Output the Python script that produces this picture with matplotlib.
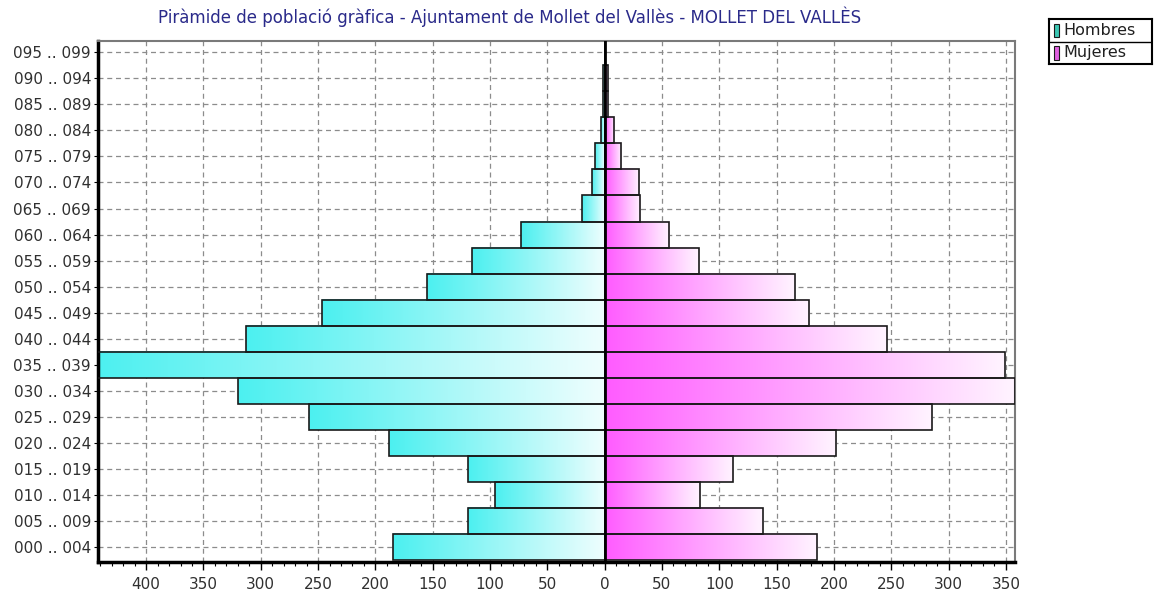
import numpy as np
import matplotlib
matplotlib.use('Agg')
from matplotlib import pyplot as plt
from matplotlib.colors import LinearSegmentedColormap
from matplotlib.patches import Rectangle

plt.rcParams['font.family'] = ['DejaVu Sans']

# age groups, bottom to top
grupos = ['000 .. 004', '005 .. 009', '010 .. 014', '015 .. 019', '020 .. 024',
          '025 .. 029', '030 .. 034', '035 .. 039', '040 .. 044', '045 .. 049',
          '050 .. 054', '055 .. 059', '060 .. 064', '065 .. 069', '070 .. 074',
          '075 .. 079', '080 .. 084', '085 .. 089', '090 .. 094', '095 .. 099']
hombres = [185, 119, 96, 119, 188, 258, 320, 445, 313, 247,
           155, 116, 73, 20, 11, 8, 3, 1.5, 1.5, 0]
mujeres = [185, 138, 83, 112, 202, 286, 358, 349, 246, 178,
           166, 82, 56, 31, 30, 14, 8, 2.5, 2.5, 0]
xticks = [-400, -350, -300, -250, -200, -150, -100, -50, 0, 50, 100, 150, 200, 250, 300, 350]

titulo = 'Piràmide de població gràfica - Ajuntament de Mollet del Vallès - MOLLET DEL VALLÈS'

cmap_h = LinearSegmentedColormap.from_list('h', ['#4cf0f0', '#effefe'])
cmap_m = LinearSegmentedColormap.from_list('m', ['#ff5cff', '#fff4ff'])
grad = np.linspace(0, 1, 256).reshape(1, -1)

fig = plt.figure(figsize=(11.57, 5.95), dpi=100)
ax = fig.add_axes([98/1157, 1-562/595, (1015-98)/1157, (562-41)/595])

y = np.arange(len(grupos))

# grid under the bars
ax.set_axisbelow(True)
ax.grid(True, color='#8c8c8c', linestyle=(0, (4, 3)), linewidth=0.9)

# gradient fill, left to right inside every bar
for i in range(len(grupos)):
    if hombres[i] > 0:
        ax.imshow(grad, cmap=cmap_h, aspect='auto', interpolation='bicubic',
                  extent=[-hombres[i], 0, y[i]-0.5, y[i]+0.5], zorder=2)
    if mujeres[i] > 0:
        ax.imshow(grad, cmap=cmap_m, aspect='auto', interpolation='bicubic',
                  extent=[0, mujeres[i], y[i]-0.5, y[i]+0.5], zorder=2)

ax.barh(y, [-v for v in hombres], height=1.0, facecolor='none',
        edgecolor='#1a1a1a', linewidth=1.2, zorder=3)
ax.barh(y, mujeres, height=1.0, facecolor='none',
        edgecolor='#1a1a1a', linewidth=1.2, zorder=3)
ax.axvline(0, color='black', linewidth=2, zorder=4)

ax.set_xlim(-442, 358)
ax.set_ylim(-0.57, 19.43)

ax.set_xticks(xticks)
ax.set_xticklabels([str(abs(v)) for v in xticks])
ax.set_xticks(np.arange(-440, 360, 10), minor=True)
ax.set_yticks(y)
ax.set_yticklabels(grupos)
ax.tick_params(axis='both', labelsize=11, colors='black', labelcolor='#303030')
ax.tick_params(axis='x', which='major', length=6, width=1, pad=5)
ax.tick_params(axis='x', which='minor', length=3, width=0.8)
ax.tick_params(axis='y', length=3, pad=2)

for s in ['left', 'bottom']:
    ax.spines[s].set_linewidth(2.5)
    ax.spines[s].set_color('black')
for s in ['top', 'right']:
    ax.spines[s].set_linewidth(1.5)
    ax.spines[s].set_color('#7a7a7a')

fig.text(510/1157, 1-17/595, titulo, ha='center', va='center',
         fontsize=12, color='#2a2a8a')

# legend box
lg = fig.add_axes([1049/1157, 1-64/595, 103/1157, 45/595])
lg.set_xlim(0, 1)
lg.set_ylim(0, 2)
lg.set_xticks([])
lg.set_yticks([])
for s in lg.spines.values():
    s.set_linewidth(1.5)
    s.set_color('black')
lg.axhline(1, color='black', linewidth=1)
lg.add_patch(Rectangle((0.05, 1.2), 0.05, 0.6, facecolor='#3cc8b4', edgecolor='#1a1a1a', lw=0.8))
lg.add_patch(Rectangle((0.05, 0.2), 0.05, 0.6, facecolor='#e060e0', edgecolor='#1a1a1a', lw=0.8))
lg.text(0.14, 1.5, 'Hombres', va='center', fontsize=11.5, color='#202020')
lg.text(0.14, 0.5, 'Mujeres', va='center', fontsize=11.5, color='#202020')

fig.savefig('out.png', dpi=100)
